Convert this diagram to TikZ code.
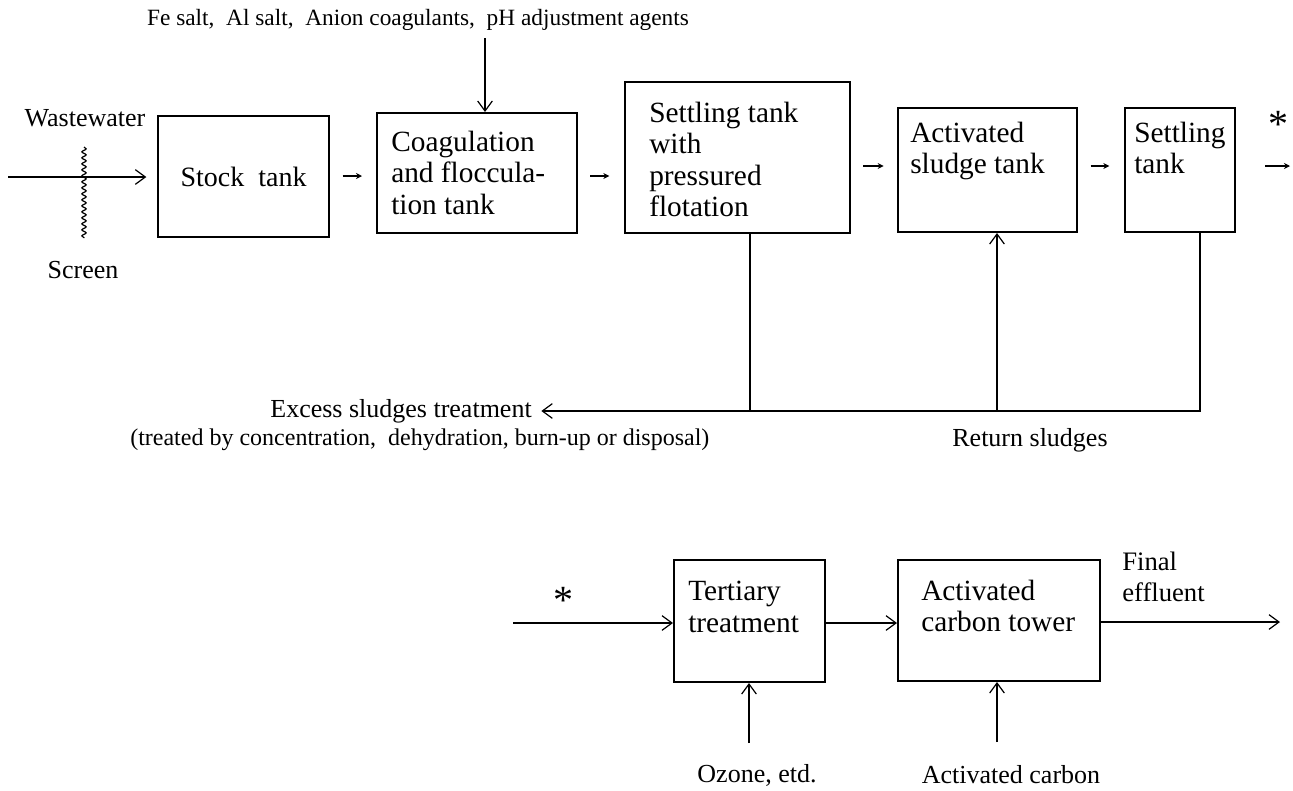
\documentclass[tikz,border=0pt]{standalone}
\usepackage{fontspec}
\setmainfont{Liberation Serif}
\usetikzlibrary{arrows.meta,decorations.pathmorphing,calc}

\begin{document}
\begin{tikzpicture}[x=0.75pt,y=-0.75pt,
  tank/.style 2 args={draw,line width=1.5pt,inner sep=0pt,
    minimum width=#1*0.75pt,minimum height=#2*0.75pt},
  boxtext/.style={anchor=north west,inner sep=0pt,align=left,
    font=\fontsize{22}{23.5}\selectfont},
  label/.style={inner sep=0pt,font=\fontsize{19.5}{22.5}\selectfont},
  star/.style={inner sep=0pt,font=\fontsize{30}{30}\selectfont},
  flow/.style={line width=0.9pt,-{Straight Barb[length=7.5pt,width=11pt,line width=0.9pt]}},
  pipe/.style={line width=0.9pt},
  hop/.style={line width=0.9pt,-{Stealth[length=4.5pt,width=4.5pt]}}]

\fill[white] (0,0) rectangle (1293,790);
\useasboundingbox (0,0) rectangle (1293,790);

% ---- main line: tanks ----
\node[tank={171}{121}] (stock)  at (243.5,176.5) {};
\node[tank={200}{120}] (coag)   at (477,173) {};
\node[tank={225}{151}] (flot)   at (737.5,157.5) {};
\node[tank={179}{124}] (act)    at (987.5,170) {};
\node[tank={110}{124}] (settle) at (1180,170) {};

\node[inner sep=0pt,font=\fontsize{21}{23.5}\selectfont] (stocktxt) at (stock) {Stock\ \ tank};
\node[boxtext] (coagtxt)   at (391,131) {Coagulation\\and floccula-\\tion tank};
\node[boxtext] (flottxt)   at (649,102) {Settling tank\\with\\pressured\\flotation};
\node[boxtext] (acttxt)    at (910,122) {Activated\\sludge tank};
\node[boxtext] (settletxt) at (1134,122) {Settling\\tank};

% ---- chemicals fed to coagulation ----
\node[label,font=\fontsize{17.5}{21}\selectfont] (chem) at (418,20)
  {Fe salt,\ \ Al salt,\ \ Anion coagulants,\ \ pH adjustment agents};
\coordinate (chemtop) at (485,38);
\draw[flow] (chemtop) -- (chemtop |- coag.north);

% ---- inlet with screen ----
\node[label] (ww) at (85,118) {Wastewater};
\coordinate (inlet) at (8,177);
\draw[flow,shorten >=8pt] (inlet) -- (inlet -| stock.west);
\coordinate (scrtop) at (84,147);
\coordinate (scrbot) at (84,238);
\draw[line width=0.9pt,decorate,decoration={snake,amplitude=1.6pt,segment length=4.5pt}]
  (scrtop) -- (scrbot);
\node[label] (screen) at (83,270) {Screen};

% ---- short transfer arrows between tanks ----
\coordinate (rowA) at (0,176);
\coordinate (rowB) at (0,166);
\draw[hop,shorten <=9.5pt,shorten >=10.5pt] (stock.east |- rowA) -- (coag.west |- rowA);
\draw[hop,shorten <=9pt,shorten >=11pt] (coag.east |- rowA) -- (flot.west |- rowA);
\draw[hop,shorten <=9pt,shorten >=10pt] (flot.east |- rowB) -- (act.west |- rowB);
\draw[hop,shorten <=9.5pt,shorten >=11pt] (act.east |- rowB) -- (settle.west |- rowB);
\coordinate (toTert) at (1290,166);
\draw[hop,shorten <=22pt] (settle.east |- rowB) -- (toTert);
\node[star] (starA) at (1278,124) {*};

% ---- sludge lines ----
\node[label,anchor=east] (excess) at (532,411) {Excess sludges treatment};
\node[label,anchor=west,font=\fontsize{18}{22.5}\selectfont] (excessnote) at (130,440)
  {(treated by concentration,\ \ dehydration, burn-up or disposal)};
\node[label] (retlbl) at (1030,440) {Return sludges};
\coordinate (fdrop) at (750,411);
\coordinate (ret)   at (997,411);
\coordinate (sdrop) at (1200,411);
\draw[pipe] (fdrop |- flot.south) -- (fdrop);
\draw[flow] (ret) -- (ret |- act.south);
\draw[flow,shorten >=7pt] (sdrop |- settle.south) -- (sdrop) -- (excess.east);

% ---- advanced treatment ----
\node[tank={151}{122}] (tert)   at (749.5,621) {};
\node[tank={202}{121}] (carbon) at (999,620.5) {};
\node[boxtext] (terttxt)   at (688,581) {Tertiary\\treatment};
\node[boxtext] (carbontxt) at (921,580) {Activated\\carbon tower};

\node[star] (starB) at (563,600) {*};
\coordinate (in2) at (513,623);
\draw[flow] (in2) -- (in2 -| tert.west);
\draw[flow] (tert.east |- in2) -- (carbon.west |- in2);

\coordinate (oz) at (749,743);
\draw[flow] (oz) -- (oz |- tert.south);
\node[label] (ozlbl) at (757,775) {Ozone, etd.};

\coordinate (cf) at (997,742);
\draw[flow] (cf) -- (cf |- carbon.south);
\node[label] (cflbl) at (1011,775) {Activated carbon};

\coordinate (out) at (1280,622);
\draw[flow] (carbon.east |- out) -- (out);
\node[label,anchor=north west,align=left,font=\fontsize{20}{23}\selectfont] (final) at (1122,552) {Final\\effluent};

\end{tikzpicture}
\end{document}
